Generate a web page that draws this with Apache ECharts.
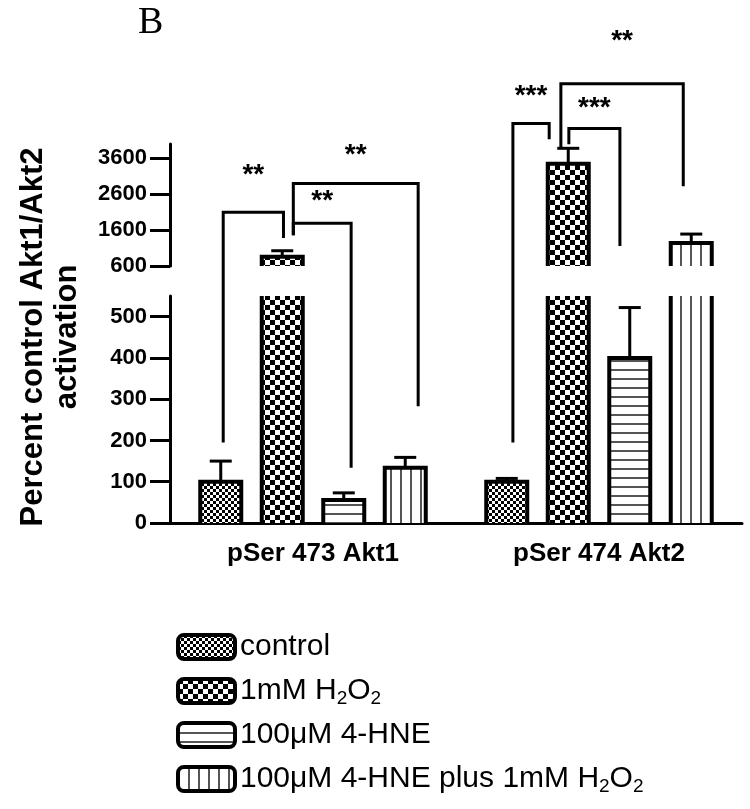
<!DOCTYPE html>
<html>
<head>
<meta charset="utf-8">
<script src="https://cdn.jsdelivr.net/npm/echarts@6/dist/echarts.min.js"></script>
<style>
  html, body { margin: 0; padding: 0; background: #fff; }
  #main { width: 750px; height: 809px; }
</style>
</head>
<body>
<div id="main"></div>
<script>
const categories = ['pSer 473 Akt1', 'pSer 474 Akt2'];
const seriesNames = ['control', '1mM H2O2', '100μM 4-HNE', '100μM 4-HNE plus 1mM H2O2'];

// mean / SEM per category
const controlMean = [100, 100];
const controlErr = [50, 8];
const h2o2Mean = [860, 3450];
const h2o2Err = [165, 430];
const hneMean = [56, 400];
const hneErr = [17, 122];
const comboMean = [134, 1240];
const comboErr = [25, 250];

const lowerTicks = [0, 100, 200, 300, 400, 500];
const upperTicks = [600, 1600, 2600, 3600];

// significance brackets: category, left leg / right leg (bar slot), feet [axis, value], top value, stars, star value
const brackets = [
  [0, 0.04, 1.02, [0, 195], [1, 1380], 2100, '**', 3210],
  [0, 1.18, 2.12, [1, 1460], [0, 134], 1790, '**', 2490],
  [0, 1.18, 3.21, [1, 1460], [0, 283], 2900, '**', 3770],
  [1, 0.10, 0.69, [0, 195], [1, 4130], 4570, '***', 5400],
  [1, 1.01, 1.84, [1, 3990], [1, 1160], 4430, '***', 5070],
  [1, 0.88, 2.87, [1, 3880], [1, 2820], 5680, '**', 6960]
];

const means = [controlMean, h2o2Mean, hneMean, comboMean];
const errs = [controlErr, h2o2Err, hneErr, comboErr];

const FONT = '"Liberation Sans", Arial, Helvetica, sans-serif';
const BAR_W = 41;
const PITCH = BAR_W * 1.5; // barGap 50%
const LOWER = [0, 550];
const UPPER = [600, 4000];

function makePattern(w, h, draw) {
  const cv = document.createElement('canvas');
  cv.width = w;
  cv.height = h;
  const ctx = cv.getContext('2d');
  ctx.fillStyle = '#fff';
  ctx.fillRect(0, 0, w, h);
  ctx.fillStyle = '#000';
  draw(ctx);
  return { image: cv, repeat: 'repeat' };
}

const patterns = [
  makePattern(6, 6, c => { c.fillRect(0, 0, 3, 3); c.fillRect(3, 3, 3, 3); }),
  makePattern(10, 10, c => { c.fillRect(0, 0, 5, 5); c.fillRect(5, 5, 5, 5); }),
  makePattern(1, 9, c => { c.fillStyle = '#555'; c.fillRect(0, 0, 1, 2); }),
  makePattern(10, 1, c => { c.fillStyle = '#555'; c.fillRect(0, 0, 2, 1); })
];

// pattern fill only; outlines are drawn by the custom series so cut edges stay open
function barSeries(idx) {
  return means.map((m, s) => ({
    name: seriesNames[s],
    type: 'bar',
    xAxisIndex: idx,
    yAxisIndex: idx,
    data: m,
    barWidth: BAR_W,
    barGap: '50%',
    clip: true,
    itemStyle: { color: patterns[s], borderWidth: 0 },
    emphasis: { disabled: true }
  }));
}

// bar outlines + error bars for one grid
function outlineSeries(idx, range) {
  const data = [];
  means.forEach((m, s) => {
    m.forEach((v, c) => {
      if (v > range[0]) data.push([c, v, errs[s][c], s]);
    });
  });
  return {
    type: 'custom',
    xAxisIndex: idx,
    yAxisIndex: idx,
    z: 5,
    silent: true,
    data: data,
    renderItem(params, api) {
      const cat = api.value(0);
      const v = api.value(1);
      const cx = api.coord([cat, v])[0] + (api.value(3) - 1.5) * PITCH;
      const xl = cx - BAR_W / 2;
      const xr = cx + BAR_W / 2;
      const yBot = api.coord([cat, Math.max(0, range[0])])[1];
      const inside = v <= range[1];
      const yTop = api.coord([cat, inside ? v : range[1]])[1];
      const st = { stroke: '#000', lineWidth: 4, fill: null, lineJoin: 'miter' };
      const eb = { stroke: '#000', lineWidth: 3 };
      const children = [];
      if (inside) {
        const yErr = api.coord([cat, v + api.value(2)])[1];
        children.push(
          { type: 'line', shape: { x1: cx, y1: yTop, x2: cx, y2: yErr }, style: eb },
          { type: 'line', shape: { x1: cx - 11, y1: yErr, x2: cx + 11, y2: yErr }, style: eb },
          { type: 'polyline', shape: { points: [[xl, yBot], [xl, yTop], [xr, yTop], [xr, yBot]] }, style: st }
        );
      } else {
        children.push(
          { type: 'line', shape: { x1: xl, y1: yBot, x2: xl, y2: yTop }, style: st },
          { type: 'line', shape: { x1: xr, y1: yBot, x2: xr, y2: yTop }, style: st }
        );
      }
      return { type: 'group', children: children };
    }
  };
}

function yAxisOf(idx, range, ticks) {
  return {
    type: 'value',
    gridIndex: idx,
    min: range[0],
    max: range[1],
    axisLine: { show: true, lineStyle: { color: '#000', width: 3 } },
    axisTick: { show: true, length: 20, customValues: ticks, lineStyle: { color: '#000', width: 3 } },
    axisLabel: {
      customValues: ticks, margin: 23, color: '#000', fontSize: 22, fontWeight: 'bold', fontFamily: FONT,
      formatter: v => String(v)
    },
    splitLine: { show: false }
  };
}

const chart = echarts.init(document.getElementById('main'));

chart.setOption({
  animation: false,
  backgroundColor: '#fff',
  grid: [
    { left: 170, right: 8, top: 296, height: 227 },
    { left: 170, right: 8, top: 144, height: 122 }
  ],
  xAxis: [
    {
      type: 'category',
      gridIndex: 0,
      data: categories,
      axisLine: { lineStyle: { color: '#000', width: 3 } },
      axisTick: { alignWithLabel: true, length: 10, lineStyle: { color: '#000', width: 3 } },
      axisLabel: { margin: 18, color: '#000', fontSize: 26, fontWeight: 'bold', fontFamily: FONT }
    },
    { type: 'category', gridIndex: 1, data: categories, show: false }
  ],
  yAxis: [
    yAxisOf(0, LOWER, lowerTicks),
    yAxisOf(1, UPPER, upperTicks)
  ],
  legend: {
    data: seriesNames,
    orient: 'vertical',
    left: 171,
    top: 625,
    itemWidth: 57,
    itemHeight: 24,
    itemGap: 10,
    icon: 'roundRect',
    selectedMode: false,
    itemStyle: { borderColor: '#000', borderWidth: 4 },
    formatter: name => name.replace('H2O2', 'H{sub|2}O{sub|2}'),
    textStyle: {
      color: '#000', fontSize: 30, lineHeight: 34, fontFamily: FONT,
      rich: { sub: { fontSize: 19, lineHeight: 14, verticalAlign: 'bottom', color: '#000', fontFamily: FONT } }
    }
  },
  series: barSeries(0).concat(barSeries(1), [outlineSeries(0, LOWER), outlineSeries(1, UPPER)])
});

function px(cat, pos) {
  return chart.convertToPixel({ xAxisIndex: 0 }, categories[cat]) + (pos - 1.5) * PITCH;
}
function py(axis, v) {
  return chart.convertToPixel({ yAxisIndex: axis }, v);
}

const graphics = [
  {
    type: 'text', x: 50, y: 337, rotation: Math.PI / 2,
    style: {
      text: 'Percent control Akt1/Akt2\nactivation',
      font: 'bold 31px ' + FONT, lineHeight: 34,
      align: 'center', verticalAlign: 'middle', fill: '#000'
    }
  },
  {
    type: 'text', x: 138, y: 4,
    style: { text: 'B', font: '38px "Liberation Serif", "Times New Roman", serif', fill: '#000' }
  }
];

brackets.forEach(b => {
  const x1 = px(b[0], b[1]);
  const x2 = px(b[0], b[2]);
  const yt = py(1, b[5]);
  graphics.push({
    type: 'polyline',
    shape: { points: [[x1, py(b[3][0], b[3][1])], [x1, yt], [x2, yt], [x2, py(b[4][0], b[4][1])]] },
    style: { stroke: '#000', lineWidth: 3, fill: null, lineJoin: 'miter' }
  });
  graphics.push({
    type: 'text', x: (x1 + x2) / 2, y: py(1, b[7]) + 3,
    style: { text: b[6], font: 'bold 28px ' + FONT, align: 'center', verticalAlign: 'middle', fill: '#000' }
  });
});

chart.setOption({ graphic: graphics });
</script>
</body>
</html>
